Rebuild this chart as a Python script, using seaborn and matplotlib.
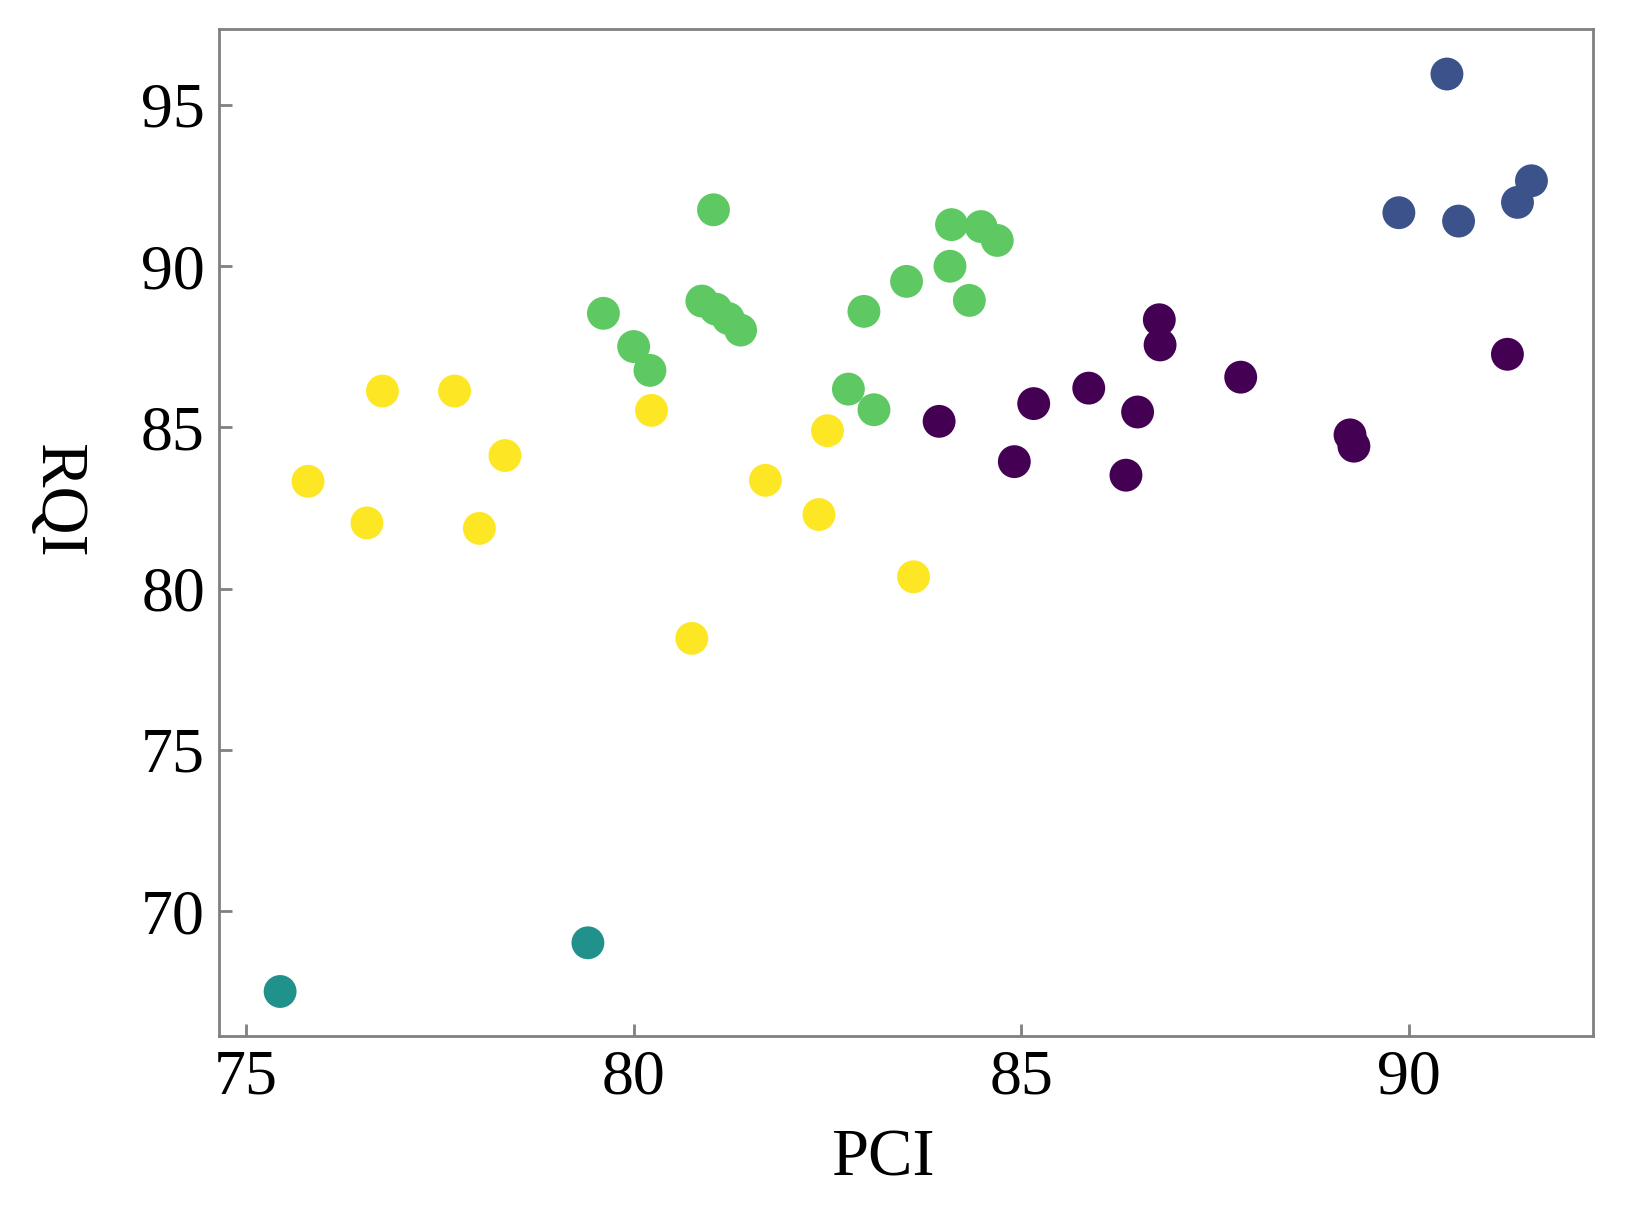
import matplotlib
matplotlib.use("Agg")
import matplotlib.pyplot as plt
import seaborn as sns
import pandas as pd

# Data
yellow_pci = [75.80, 76.76, 76.56, 77.69, 78.01, 78.34, 80.23, 80.75, 81.70, 82.39, 82.50, 83.61]
yellow_rqi = [83.33, 86.13, 82.04, 86.13, 81.87, 84.13, 85.53, 78.46, 83.36, 82.30, 84.90, 80.37]

green_pci = [79.61, 80.00, 80.21, 81.03, 80.88, 81.06, 81.22, 81.38, 82.77, 83.10, 82.97, 83.52, 84.08, 84.10, 84.48, 84.69, 84.33]
green_rqi = [88.54, 87.51, 86.77, 91.75, 88.92, 88.67, 88.38, 88.02, 86.19, 85.55, 88.60, 89.53, 90.00, 91.29, 91.23, 90.80, 88.94]

purple_pci = [83.94, 84.91, 85.16, 85.87, 86.50, 86.35, 86.78, 86.79, 87.83, 89.24, 89.29, 91.27]
purple_rqi = [85.19, 83.94, 85.74, 86.22, 85.48, 83.52, 88.34, 87.56, 86.56, 84.77, 84.42, 87.27]

blue_pci = [90.49, 89.87, 90.64, 91.40, 91.58]
blue_rqi = [95.96, 91.66, 91.40, 91.98, 92.65]

teal_pci = [75.44, 79.41]
teal_rqi = [67.51, 69.02]

clusters = ["c0", "c1", "c2", "c3", "c4"]
colors = ["#440154", "#3b528b", "#21918c", "#5ec962", "#fde725"]

groups = [(purple_pci, purple_rqi, "c0"), (blue_pci, blue_rqi, "c1"),
          (teal_pci, teal_rqi, "c2"), (green_pci, green_rqi, "c3"),
          (yellow_pci, yellow_rqi, "c4")]
rows = []
for xs, ys, c in groups:
    for x, y in zip(xs, ys):
        rows.append({"PCI": x, "RQI": y, "cluster": c})
df = pd.DataFrame(rows)

sns.set_theme(style="white")
plt.rcParams['font.family'] = ['Liberation Serif', 'DejaVu Serif']
plt.rcParams['text.color'] = 'black'
plt.rcParams['axes.labelcolor'] = 'black'
plt.rcParams['xtick.color'] = 'black'
plt.rcParams['ytick.color'] = 'black'

fig = plt.figure(figsize=(16.26, 12.17), dpi=100)
ax = fig.add_axes([0.1346, 0.149, 0.980 - 0.1346, 0.976 - 0.149])

sns.scatterplot(data=df, x="PCI", y="RQI", hue="cluster", hue_order=clusters,
                palette=dict(zip(clusters, colors)), s=560, linewidth=0,
                legend=False, ax=ax)

ax.set_xlim(74.65, 92.38)
ax.set_ylim(66.14, 97.35)
ax.set_xticks([75, 80, 85, 90])
ax.set_yticks([70, 75, 80, 85, 90, 95])
ax.tick_params(direction="in", length=9, width=2, color="#808080",
               labelcolor="black", labelsize=46, pad=10, bottom=True, left=True)
for sp in ax.spines.values():
    sp.set_color("#808080")
    sp.set_linewidth(2)
ax.set_xlabel("PCI", fontsize=48, va="center", ha="center")
ax.set_ylabel("RQI", fontsize=48, rotation=270, va="center", ha="center")
ax.xaxis.set_label_coords(0.483, -0.123)
ax.yaxis.set_label_coords(-0.118, 0.532)

fig.savefig("out.png", dpi=100)
